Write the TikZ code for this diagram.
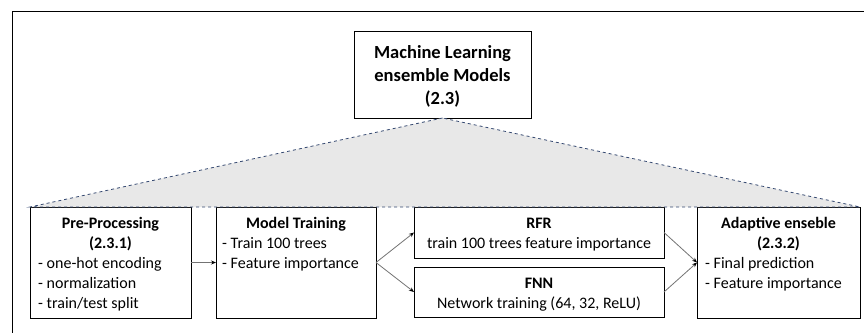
\documentclass[tikz,border=0pt]{standalone}
\usepackage{fontspec}
\setmainfont{Carlito}
\usetikzlibrary{arrows.meta}
\definecolor{dashblue}{RGB}{52,72,112}
\definecolor{conngray}{RGB}{115,115,115}

\begin{document}
\begin{tikzpicture}[x=1pt,y=-1pt,
	box/.style={draw,line width=1pt,fill=white,inner sep=0,outer sep=0},
	txt/.style={inner sep=0,font=\fontsize{16}{20}\selectfont},
	hd/.style={txt,font=\fontsize{16}{20}\selectfont\bfseries,align=center,anchor=north},
	lst/.style={txt,align=left,anchor=north west},
	conn/.style={draw=conngray,line width=0.8pt,-{Stealth[black,length=5pt,width=4pt]}}]
	\useasboundingbox (0,0) rectangle (864,332);
	\draw[line width=1pt] (12,345) -- (12,11) -- (880,11);
	% boxes
	\node[box,minimum width=177,minimum height=87] (ml) at (442.5,74.5) {};
	\node[box,minimum width=161,minimum height=111] (pre) at (110.5,262.5) {};
	\node[box,minimum width=160,minimum height=111] (train) at (296,262.5) {};
	\node[box,minimum width=250,minimum height=51] (rfr) at (539,232.5) {};
	\node[box,minimum width=250,minimum height=50] (fnn) at (539,292) {};
	\node[box,minimum width=163,minimum height=111] (ada) at (778.5,262.5) {};
	% triangle
	\draw[fill=gray!18,draw=dashblue,dashed,line width=0.8pt] (ml.south) -- (pre.north west) -- (ada.north east) -- cycle;
	% texts
	\node[txt,font=\fontsize{18.5}{23}\selectfont\bfseries,align=center] (mlt) at ([yshift=-2]ml.center) {Machine Learning\\ensemble Models\\(2.3)};
	\node[hd] (pret) at (110.5,217.5) {Pre-Processing\\(2.3.1)};
	\node[lst] (prel) at (38,257) {- one-hot encoding\\- normalization\\- train/test split};
	\node[hd] (traint) at (296,217.5) {Model Training};
	\node[lst] (trainl) at (222,237) {- Train 100 trees\\- Feature importance};
	\node[hd] (rfrt) at (539,217.5) {RFR\\\mdseries train 100 trees feature importance};
	\node[hd] (fnnt) at (539,277.5) {FNN\\\mdseries Network training (64, 32, ReLU)};
	\node[hd] (adat) at (778.5,217.5) {Adaptive enseble\\(2.3.2)};
	\node[lst] (adal) at (705,257) {- Final prediction\\- Feature importance};
	% connectors
	\draw[conn] (pre.east) -- (train.west);
	\draw[conn] (train.east) -- (rfr.west);
	\draw[conn] (train.east) -- (fnn.west);
	\draw[conn] (rfr.east) -- (ada.west);
	\draw[conn] (fnn.east) -- (ada.west);
\end{tikzpicture}
\end{document}
